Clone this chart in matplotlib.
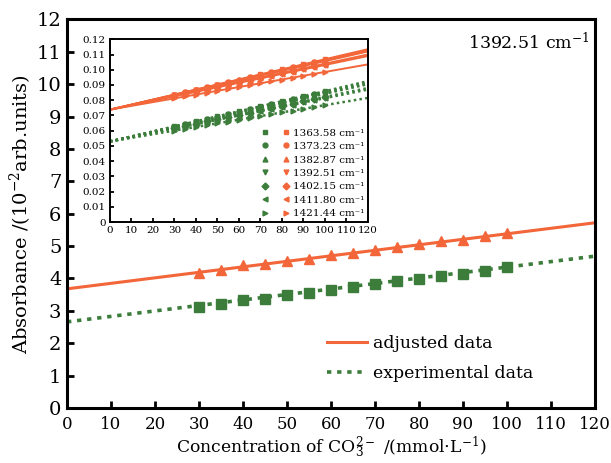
import matplotlib
matplotlib.use("Agg")
import matplotlib.pyplot as plt
from matplotlib.legend_handler import HandlerTuple

plt.rcParams['font.family'] = ['DejaVu Serif']
plt.rcParams['mathtext.fontset'] = 'dejavuserif'

ORANGE = '#F2663A'
GREEN = '#3C7D3C'

# main plot (1392.51 cm-1)
conc = [30, 35, 40, 45, 50, 55, 60, 65, 70, 75, 80, 85, 90, 95, 100]
adj_pts = [4.18, 4.26, 4.42, 4.45, 4.54, 4.61, 4.73, 4.80, 4.88, 4.98, 5.05, 5.15, 5.20, 5.30, 5.40]
exp_pts = [3.13, 3.20, 3.34, 3.38, 3.49, 3.56, 3.65, 3.73, 3.82, 3.92, 3.97, 4.09, 4.14, 4.23, 4.35]
fit_x = [0, 120]
adj_fit = [3.68, 5.72]
exp_fit = [2.66, 4.69]

# inset: all wavenumbers
wavenumbers = ['1363.58', '1373.23', '1382.87', '1392.51', '1402.15', '1411.80', '1421.44']
markers = ['s', 'o', '^', 'v', 'D', '<', '>']

orange_fit = [[0.0738, 0.1135], [0.0738, 0.1130], [0.0738, 0.1125], [0.0738, 0.1120],
              [0.0738, 0.1100], [0.0738, 0.1090], [0.0738, 0.1035]]
green_fit = [[0.0529, 0.0925], [0.0529, 0.0920], [0.0529, 0.0910], [0.0529, 0.0905],
             [0.0529, 0.0880], [0.0529, 0.0870], [0.0529, 0.0815]]

orange_pts = [
    [0.0837, 0.0854, 0.0870, 0.0887, 0.0903, 0.0920, 0.0936, 0.0953, 0.0970, 0.0986, 0.1003, 0.1019, 0.1036, 0.1052, 0.1069],
    [0.0836, 0.0852, 0.0869, 0.0885, 0.0901, 0.0918, 0.0934, 0.0950, 0.0967, 0.0983, 0.0999, 0.1016, 0.1032, 0.1048, 0.1065],
    [0.0835, 0.0851, 0.0867, 0.0883, 0.0899, 0.0915, 0.0932, 0.0948, 0.0964, 0.0980, 0.0996, 0.1012, 0.1028, 0.1044, 0.1061],
    [0.0833, 0.0849, 0.0865, 0.0881, 0.0897, 0.0913, 0.0929, 0.0945, 0.0961, 0.0977, 0.0993, 0.1009, 0.1024, 0.1040, 0.1056],
    [0.0829, 0.0844, 0.0859, 0.0874, 0.0889, 0.0904, 0.0919, 0.0934, 0.0949, 0.0964, 0.0979, 0.0994, 0.1010, 0.1025, 0.1040],
    [0.0826, 0.0841, 0.0855, 0.0870, 0.0885, 0.0899, 0.0914, 0.0929, 0.0943, 0.0958, 0.0973, 0.0987, 0.1002, 0.1017, 0.1031],
    [0.0812, 0.0825, 0.0837, 0.0849, 0.0862, 0.0874, 0.0887, 0.0899, 0.0911, 0.0924, 0.0936, 0.0948, 0.0961, 0.0973, 0.0986],
]
green_pts = [
    [0.0628, 0.0645, 0.0661, 0.0678, 0.0694, 0.0711, 0.0727, 0.0744, 0.0760, 0.0777, 0.0793, 0.0810, 0.0826, 0.0843, 0.0859],
    [0.0627, 0.0643, 0.0659, 0.0676, 0.0692, 0.0708, 0.0724, 0.0741, 0.0757, 0.0773, 0.0790, 0.0806, 0.0822, 0.0839, 0.0855],
    [0.0624, 0.0640, 0.0656, 0.0672, 0.0688, 0.0704, 0.0720, 0.0735, 0.0751, 0.0767, 0.0783, 0.0799, 0.0815, 0.0831, 0.0847],
    [0.0623, 0.0639, 0.0654, 0.0670, 0.0686, 0.0701, 0.0717, 0.0733, 0.0748, 0.0764, 0.0780, 0.0795, 0.0811, 0.0827, 0.0842],
    [0.0617, 0.0631, 0.0646, 0.0661, 0.0675, 0.0690, 0.0705, 0.0719, 0.0734, 0.0748, 0.0763, 0.0778, 0.0792, 0.0807, 0.0822],
    [0.0614, 0.0628, 0.0643, 0.0657, 0.0671, 0.0685, 0.0700, 0.0714, 0.0728, 0.0742, 0.0756, 0.0771, 0.0785, 0.0799, 0.0813],
    [0.0600, 0.0612, 0.0624, 0.0636, 0.0648, 0.0660, 0.0672, 0.0684, 0.0696, 0.0708, 0.0720, 0.0732, 0.0744, 0.0755, 0.0767],
]

fig = plt.figure(figsize=(6.11, 4.63), dpi=100)
ax = fig.add_axes([0.1097, 0.1188, 0.8641, 0.8392])

dot = (0, (1.2, 1.6))
l_adj, = ax.plot(fit_x, adj_fit, color=ORANGE, lw=2.2, label='adjusted data')
l_exp, = ax.plot(fit_x, exp_fit, color=GREEN, lw=2.6, ls=dot, label='experimental data')
ax.plot(conc, adj_pts, ls='none', marker='^', ms=7.5, color=ORANGE)
ax.plot(conc, exp_pts, ls='none', marker='s', ms=6.5, color=GREEN)

ax.set_xlim(0, 120)
ax.set_ylim(0, 12)
ax.set_xticks(range(0, 121, 10))
ax.set_yticks(range(0, 13))
ax.tick_params(direction='in', length=5, width=2, labelsize=12)
ax.tick_params(axis='x', pad=6)
ax.tick_params(axis='y', labelsize=14, pad=4)
for s in ax.spines.values():
    s.set_linewidth(2.2)
ax.set_xlabel(r'Concentration of CO$_3^{2-}$ /(mmol$\cdot$L$^{-1}$)', fontsize=12.3, labelpad=1)
ax.set_ylabel(r'Absorbance /(10$^{-2}$arb.units)', fontsize=14, labelpad=2)
ax.text(0.99, 0.968, r'1392.51 cm$^{-1}$', transform=ax.transAxes, ha='right', va='top', fontsize=12.5)
ax.legend(handles=[l_adj, l_exp], loc='center left', bbox_to_anchor=(0.479, 0.127),
          borderaxespad=0, frameon=False, fontsize=12.5, handlelength=2.3,
          handletextpad=0.35, labelspacing=0.77)

# inset
ins = fig.add_axes([0.180, 0.5205, 0.422, 0.3946])
handles = []
for i in range(len(wavenumbers)):
    ins.plot(fit_x, orange_fit[i], color=ORANGE, lw=1.4)
    ins.plot(fit_x, green_fit[i], color=GREEN, lw=1.8, ls=(0, (1.0, 1.3)))
    g, = ins.plot(conc, green_pts[i], ls='none', marker=markers[i], ms=3.5, color=GREEN)
    o, = ins.plot(conc, orange_pts[i], ls='none', marker=markers[i], ms=3.5, color=ORANGE)
    handles.append((g, o))

ins.set_xlim(0, 120)
ins.set_ylim(0, 0.12)
ins.set_xticks(range(0, 121, 10))
ins.set_yticks([k / 100 for k in range(13)])
ins.set_yticklabels(['0'] + ['%.2f' % (k / 100) for k in range(1, 13)])
ins.tick_params(direction='in', length=3, width=1.3, labelsize=7.5, pad=3)
for s in ins.spines.values():
    s.set_linewidth(1.4)
ins.legend(handles=handles, labels=[w + ' cm\u207b\u00b9' for w in wavenumbers],
           handler_map={tuple: HandlerTuple(ndivide=None, pad=0)},
           loc='lower right', bbox_to_anchor=(1.0, 0.0), frameon=False, fontsize=7.5,
           handlelength=4.0, handletextpad=-0.3, labelspacing=0.4, borderpad=0.25,
           borderaxespad=0.1)

fig.savefig('out.png', dpi=100)
